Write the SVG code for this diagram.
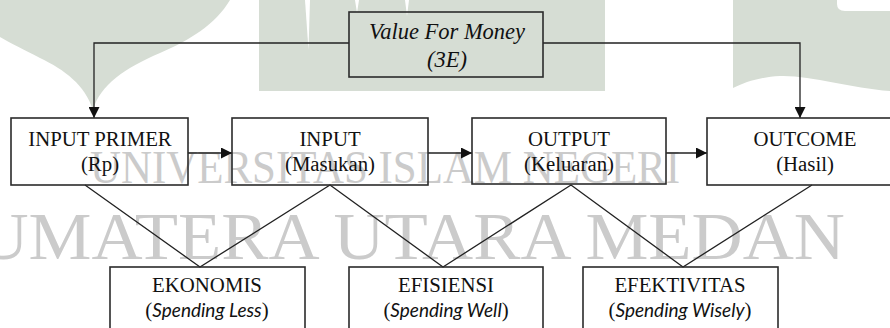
<svg xmlns="http://www.w3.org/2000/svg" width="890" height="328" viewBox="0 0 890 328">
<style>
.wm{fill:#d6ddd4;stroke:none}
.wt{font-family:"Liberation Serif","Times New Roman",serif;fill:#cbcbcb}
.box{fill:none;stroke:#2b2b2b;stroke-width:1.6}
.ln{fill:none;stroke:#222;stroke-width:1.3}
.t{font-family:"Liberation Serif","Times New Roman",serif;font-size:20.8px;fill:#111;text-anchor:middle}
.vt{font-family:"Liberation Serif","Times New Roman",serif;font-size:22.5px;font-style:italic;fill:#111;text-anchor:middle}
.it{font-family:Lato,"Open Sans",sans-serif;font-style:italic;font-size:19px}
</style>
<defs>
<marker id="ah" viewBox="0 0 10 10" refX="10" refY="5" markerWidth="11" markerHeight="11" markerUnits="userSpaceOnUse" orient="auto">
<path d="M0,0 L10,5 L0,10 Z" fill="#111"/>
</marker>
</defs>
<rect width="890" height="328" fill="#fff"/>
<g id="watermark">
<path class="wm" d="M0,0 H230 C215,25 190,40 160,53 C125,68 100,85 93,110 C85,85 65,70 40,58 C25,50 10,43 0,37 Z"/>
<rect class="wm" x="259" y="0" width="346" height="91"/>
<path fill="#fff" d="M305,0 H310 L308.5,50 Z"/>
<path fill="#fff" d="M355,0 H359 L357,13 Z"/>
<path fill="#fff" d="M405,0 H409 L407,16 Z"/>
<path class="wm" d="M733,0 H837 V4 Q837,11 845,11 H890 V91 C850,88 810,75 780,76 C760,77 745,82 733,88 Z"/>
<text class="wt" x="90" y="183" font-size="47" textLength="590" lengthAdjust="spacingAndGlyphs">UNIVERSITAS ISLAM NEGERI</text>
<text class="wt" x="-62" y="259" font-size="68" textLength="907" lengthAdjust="spacingAndGlyphs">SUMATERA UTARA MEDAN</text>
</g>
<g id="connectors">
<polyline class="ln" points="349,43 94,43 94,118" marker-end="url(#ah)"/>
<polyline class="ln" points="543,43 800,43 800,118" marker-end="url(#ah)"/>
<line class="ln" x1="188" y1="153" x2="232" y2="153" marker-end="url(#ah)"/>
<line class="ln" x1="428" y1="153" x2="472" y2="153" marker-end="url(#ah)"/>
<line class="ln" x1="666" y1="153" x2="707" y2="153" marker-end="url(#ah)"/>
<polyline class="ln" points="85,185 200,267 330,185 443,267 571,185 683,267 812,185"/>
</g>
<g id="vfm">
<rect class="box" x="349" y="12" width="194" height="65"/>
<text class="vt" x="447" y="39" font-family="Liberation Serif, serif">Value For Money</text>
<text class="vt" x="447" y="67" font-family="Liberation Serif, serif">(3E)</text>
</g>
<g id="input-primer">
<rect class="box" x="11" y="118" width="177" height="67"/>
<text class="t" x="100" y="146" font-family="Liberation Serif, serif">INPUT PRIMER</text>
<text class="t" x="100" y="171" font-family="Liberation Serif, serif">(Rp)</text>
</g>
<g id="input">
<rect class="box" x="232" y="118" width="196" height="67"/>
<text class="t" x="330" y="146" font-family="Liberation Serif, serif">INPUT</text>
<text class="t" x="330" y="171" font-family="Liberation Serif, serif">(Masukan)</text>
</g>
<g id="output">
<rect class="box" x="472" y="118" width="194" height="66"/>
<text class="t" x="569" y="146" font-family="Liberation Serif, serif">OUTPUT</text>
<text class="t" x="569" y="171" font-family="Liberation Serif, serif">(Keluaran)</text>
</g>
<g id="outcome">
<rect class="box" x="707" y="118" width="196" height="67"/>
<text class="t" x="805" y="146" font-family="Liberation Serif, serif">OUTCOME</text>
<text class="t" x="805" y="171" font-family="Liberation Serif, serif">(Hasil)</text>
</g>
<g id="ekonomis">
<rect class="box" x="110" y="267" width="195" height="70"/>
<text class="t" x="207" y="292" font-family="Liberation Serif, serif">EKONOMIS</text>
<text class="t" x="207" y="317" font-family="Liberation Serif, serif">(<tspan class="it">Spending Less</tspan>)</text>
</g>
<g id="efisiensi">
<rect class="box" x="349" y="267" width="194" height="70"/>
<text class="t" x="446" y="292" font-family="Liberation Serif, serif">EFISIENSI</text>
<text class="t" x="446" y="317" font-family="Liberation Serif, serif">(<tspan class="it">Spending Well</tspan>)</text>
</g>
<g id="efektivitas">
<rect class="box" x="583" y="267" width="195" height="70"/>
<text class="t" x="680" y="292" font-family="Liberation Serif, serif">EFEKTIVITAS</text>
<text class="t" x="680" y="317" font-family="Liberation Serif, serif">(<tspan class="it">Spending Wisely</tspan>)</text>
</g>
</svg>
